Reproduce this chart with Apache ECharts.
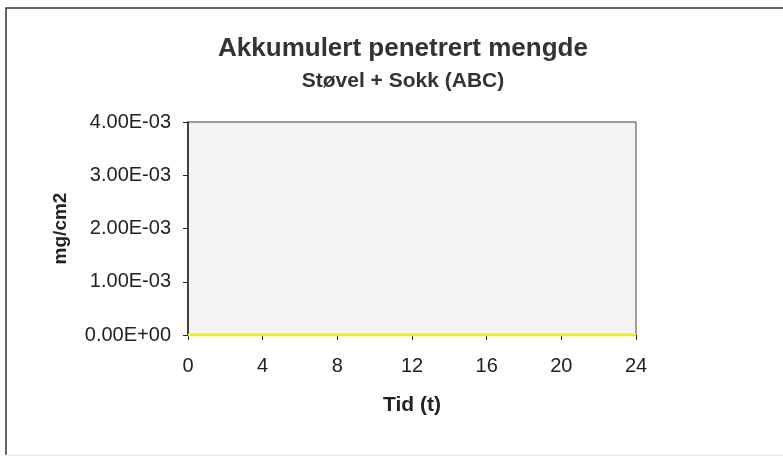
<!DOCTYPE html>
<html><head><meta charset="utf-8">
<script src="https://cdn.jsdelivr.net/npm/echarts@6/dist/echarts.min.js"></script>
<style>html,body{margin:0;padding:0;background:#fff}#c{width:783px;height:460px}</style>
</head><body><div id="c"></div>
<script>
var timeHours = [0, 4, 8, 12, 16, 20, 24];
var amountMgCm2 = [0, 0, 0, 0, 0, 0, 0];
var titleText = 'Akkumulert penetrert mengde';
var subtitleText = 'Støvel + Sokk (ABC)';
var yName = 'mg/cm2';
var xName = 'Tid (t)';

function fmtExp(v) {
  var s = Number(v).toExponential(2);
  var parts = s.split('e');
  var exp = parseInt(parts[1], 10);
  var sign = exp < 0 ? '-' : '+';
  var a = Math.abs(exp);
  return parts[0] + 'E' + sign + (a < 10 ? '0' + a : '' + a);
}

var chart = echarts.init(document.getElementById('c'), null, {renderer: 'canvas'});
var font = 'Liberation Sans, Arial, sans-serif';
chart.setOption({
  animation: false,
  backgroundColor: '#fff',
  graphic: [
    {type: 'polyline', shape: {points: [[6, 455], [6, 8], [783, 8]]},
     style: {fill: 'none', stroke: '#333', lineWidth: 1.5}, z: 0},
    {type: 'line', shape: {x1: 6, y1: 455, x2: 783, y2: 455},
     style: {stroke: '#ddd', lineWidth: 1}, z: 0}
  ],
  title: [{
    text: titleText, left: 398, top: 31, textAlign: 'center',
    textStyle: {fontFamily: font, fontWeight: 'bold', fontSize: 26, color: '#333'}
  }, {
    text: subtitleText, left: 398, top: 66, textAlign: 'center',
    textStyle: {fontFamily: font, fontWeight: 'bold', fontSize: 21, color: '#333'}
  }],
  grid: {left: 188, right: 147, top: 122, bottom: 125, show: true,
    backgroundColor: '#f3f3f3', borderColor: '#444', borderWidth: 1},
  xAxis: {
    type: 'value', min: 0, max: 24, interval: 4,
    name: xName, nameLocation: 'middle', nameGap: 60,
    nameTextStyle: {fontFamily: font, fontWeight: 'bold', fontSize: 21, color: '#222'},
    axisLine: {show: true, onZero: false, lineStyle: {color: '#222', width: 1}},
    axisTick: {show: true, inside: false, length: 5, lineStyle: {color: '#222'}},
    axisLabel: {fontFamily: font, fontSize: 20, color: '#222', margin: 21},
    splitLine: {show: false}
  },
  yAxis: {
    type: 'value', min: 0, max: 0.004, interval: 0.001,
    name: yName, nameLocation: 'middle', nameGap: 118, nameRotate: 90,
    nameTextStyle: {fontFamily: font, fontWeight: 'bold', fontSize: 19, color: '#222'},
    axisLine: {show: true, lineStyle: {color: '#222', width: 1.5}},
    axisTick: {show: true, length: 5, lineStyle: {color: '#222'}},
    axisLabel: {fontFamily: font, fontSize: 20, color: '#222', margin: 17, formatter: fmtExp},
    splitLine: {show: false}
  },
  series: [{
    type: 'line', data: timeHours.map(function (t, i) { return [t, amountMgCm2[i]]; }),
    symbol: 'none', lineStyle: {color: '#eeee22', width: 3}, z: 5
  }]
});
</script></body></html>
